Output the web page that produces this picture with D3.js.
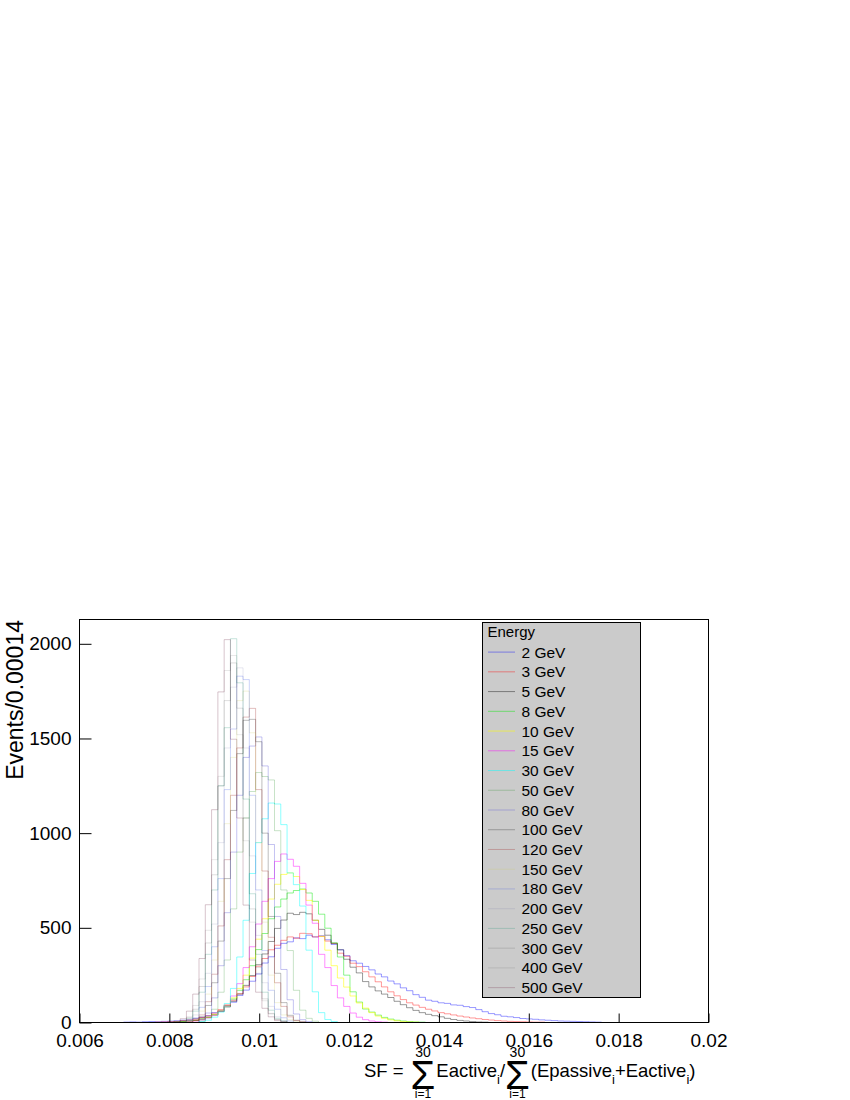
<!DOCTYPE html>
<html>
<head>
<meta charset="utf-8">
<script src="https://cdn.jsdelivr.net/npm/d3@7"></script>
<style>
body { margin: 0; background: #fff; }
text { font-family: "Liberation Sans", Arial, Helvetica, sans-serif; fill: #000; }
</style>
</head>
<body>
<svg id="chart" width="850" height="1100"></svg>
<script>
// histogram binning (100 bins of 0.00014)
var xMin = 0.006, xMax = 0.02, binWidth = 0.00014;

var energies = ["2 GeV", "3 GeV", "5 GeV", "8 GeV", "10 GeV", "15 GeV", "30 GeV", "50 GeV", "80 GeV",
                "100 GeV", "120 GeV", "150 GeV", "180 GeV", "200 GeV", "250 GeV", "300 GeV", "400 GeV", "500 GeV"];
var lineColors = ["rgba(0,0,255,0.4)", "rgba(255,0,0,0.4)", "rgba(0,0,0,0.4)", "rgba(0,230,0,0.45)",
                  "rgba(255,255,0,0.55)", "rgba(255,0,255,0.45)", "rgba(0,255,255,0.45)", "rgba(0,128,0,0.22)",
                  "rgba(89,84,216,0.35)", "rgba(0,0,0,0.26)", "rgba(160,40,40,0.3)", "rgba(200,200,80,0.22)",
                  "rgba(60,90,230,0.26)", "rgba(120,120,170,0.18)", "rgba(40,150,120,0.26)", "rgba(0,0,0,0.13)",
                  "rgba(0,0,0,0.09)", "rgba(110,40,70,0.27)"];

// index of the first non-empty bin of each histogram
var firstBin = [7, 12, 14, 15, 16, 17, 19, 19, 19, 18, 18, 18, 17, 17, 16, 16, 16, 15];

// bin contents
var counts2 = [2,3,2,4,5,4,6,7,9,12,14,21,27,36,52,63,88,107,143,171,218,256,314,347,392,418,426,447,443,461,452,458,437,412,384,353,326,313,296,278,256,241,219,204,183,168,147,133,118,112,104,101,93,91,84,79,68,57,47,41,33,30,26,21,19,17,14,12,10,8,7,6,5,4,3,2];
var counts3 = [2,3,4,6,9,13,18,26,35,49,68,91,118,152,188,243,297,338,384,408,434,452,445,471,469,452,455,430,418,366,350,313,295,268,241,215,188,162,141,121,104,92,80,70,61,52,46,40,34,29,24,20,16,13,10,8,6,5,4,3,2,2];
var counts5 = [2,3,5,8,12,19,28,41,58,82,112,150,196,248,305,362,428,497,541,577,570,582,574,540,492,461,418,384,334,292,262,216,188,167,150,132,112,94,78,64,52,43,36,30,22,16,11,8,5,3,2];
var counts8 = [2,4,7,11,18,27,40,60,88,124,170,226,300,385,470,548,610,652,684,697,705,684,640,572,498,421,346,250,162,108,71,55,39,27,18,12,8,5,3,2];
var counts10 = [3,6,10,17,27,41,62,92,130,180,250,340,440,548,652,730,782,790,771,702,645,540,455,382,300,235,187,140,103,76,52,34,22,14,9,5,3,2];
var counts15 = [4,8,14,24,38,60,92,140,205,290,400,520,640,760,851,890,862,825,735,620,524,360,290,195,130,85,50,28,15,8,4,2];
var counts30 = [5,12,28,55,100,180,346,540,787,950,1076,1159,1154,1045,790,728,615,382,162,52,16,5];
var counts50 = [8,25,70,160,330,600,900,1080,1220,1320,1299,1281,1013,700,380,170,65,22,7];
var counts80 = [15,50,130,300,580,900,1200,1400,1460,1508,1355,940,560,280,120,45,15,5];
var counts100 = [10,30,90,210,430,760,1120,1420,1596,1601,1483,1000,560,260,105,38,12,4];
var counts120 = [12,40,110,255,510,860,1200,1450,1613,1659,1230,800,450,210,85,30,10,3];
var counts150 = [20,60,150,330,640,1050,1400,1700,1750,1530,950,530,250,105,40,14,4];
var counts180 = [8,25,80,190,400,760,1230,1550,1829,1811,1200,700,380,170,70,25,8];
var counts200 = [12,40,110,260,520,950,1450,1771,1873,1450,880,460,210,85,30,10];
var counts250 = [5,20,60,160,360,700,1250,1557,2027,1794,1180,680,360,160,65,22,8];
var counts300 = [8,25,70,190,420,780,1250,1700,1899,1660,1080,600,290,125,48,16,5];
var counts400 = [10,30,90,230,487,860,1300,1859,1938,1520,960,530,260,115,45,15,5];
var counts500 = [5,20,60,150,338,622,1124,1746,2022,1496,1080,620,330,160,75,30,10,3];

var allCounts = [counts2, counts3, counts5, counts8, counts10, counts15, counts30, counts50, counts80,
                 counts100, counts120, counts150, counts180, counts200, counts250, counts300, counts400, counts500];

// axis ticks
var xMajor = [0.006, 0.008, 0.01, 0.012, 0.014, 0.016, 0.018, 0.02];
var xLabels = ["0.006", "0.008", "0.01", "0.012", "0.014", "0.016", "0.018", "0.02"];
var yMajor = [0, 500, 1000, 1500, 2000];

var svg = d3.select("#chart");
var frameL = 79.5, frameR = 708.5, frameT = 619.5, frameB = 1022.5;
var nBins = Math.round((xMax - xMin) / binWidth);

var yMaxCount = d3.max(allCounts, function(c) { return d3.max(c); });

var x = d3.scaleLinear().domain([xMin, xMax]).range([frameL, frameR]);
var y = d3.scaleLinear().domain([0, yMaxCount * 1.05]).range([frameB, frameT]);

// histograms drawn as step outlines
var line = d3.line()
    .x(function(d) { return x(d[0]); })
    .y(function(d) { return y(d[1]); })
    .curve(d3.curveStepAfter);

var hist = svg.append("g").attr("class", "hists");
allCounts.forEach(function(c, s) {
    var v = new Array(nBins).fill(0);
    c.forEach(function(n, i) { v[firstBin[s] + i] = n; });
    var pts = [[xMin, 0]];
    for (var k = 0; k < nBins; k++) pts.push([xMin + k * binWidth, v[k]]);
    pts.push([xMax, 0]);
    hist.append("path")
        .attr("d", line(pts))
        .attr("fill", "none")
        .attr("stroke", lineColors[s])
        .attr("stroke-width", 1);
});

// frame
svg.append("rect")
    .attr("x", frameL).attr("y", frameT)
    .attr("width", frameR - frameL).attr("height", frameB - frameT)
    .attr("fill", "none").attr("stroke", "#000").attr("stroke-width", 1);

// x axis, ticks pointing inside
var gx = svg.append("g").attr("transform", "translate(0," + frameB + ")");
gx.call(d3.axisBottom(x).tickValues(d3.range(xMin, xMax + 1e-6, 0.0005)).tickSize(-5).tickFormat(""));
gx.call(d3.axisBottom(x).tickValues(xMajor).tickSize(-9).tickPadding(11)
    .tickFormat(function(d, i) { return xLabels[i]; }));
gx.selectAll(".domain").remove();
gx.selectAll("text").attr("font-size", 19).attr("font-family", null);
gx.selectAll("line").attr("stroke", "#000");

// y axis
var gy = svg.append("g").attr("transform", "translate(" + frameL + ",0)");
gy.call(d3.axisLeft(y).tickValues(d3.range(0, 2101, 100)).tickSize(-6.5).tickFormat(""));
gy.call(d3.axisLeft(y).tickValues(yMajor).tickSize(-12).tickPadding(8).tickFormat(d3.format("d")));
gy.selectAll(".domain").remove();
gy.selectAll("text").attr("font-size", 19).attr("font-family", null);
gy.selectAll("line").attr("stroke", "#000");

// y title
svg.append("text")
    .attr("transform", "translate(23,620) rotate(-90)")
    .attr("text-anchor", "end")
    .attr("font-size", 23)
    .text("Events/0.00014");

// x title: SF = sum Eactive_i / sum (Epassive_i + Eactive_i)
var tx = 364, base = 1077, fs = 18.5;
var title = svg.append("g");
function word(str, size, dy, gap) {
    var t = title.append("text").attr("x", tx).attr("y", base + dy).attr("font-size", size).text(str);
    tx += t.node().getComputedTextLength() + (gap || 0);
}
function bigSum() {
    var t = title.append("text").attr("x", tx).attr("y", base + 12).attr("font-size", 40).text("\u03A3");
    var w = t.node().getComputedTextLength();
    title.append("text").attr("x", tx + w / 2).attr("y", base - 20.5).attr("font-size", 14)
        .attr("text-anchor", "middle").text("30");
    title.append("text").attr("x", tx + w / 2).attr("y", base + 20.5).attr("font-size", 12)
        .attr("text-anchor", "middle").text("i=1");
    tx += w + 1;
}
word("SF =", fs, 0, 7);
bigSum();
word("Eactive", fs, 0);
word("i", 13, 7);
word("/", fs, 0);
bigSum();
word("(Epassive", fs, 0);
word("i", 13, 7);
word("+Eactive", fs, 0);
word("i", 13, 7);
word(")", fs, 0);

// legend
var lgX = 482.5, lgY = 622.5, lgW = 158, lgH = 375;
var rowH = lgH / (energies.length + 1);
var lg = svg.append("g");
lg.append("rect")
    .attr("x", lgX).attr("y", lgY).attr("width", lgW).attr("height", lgH)
    .attr("fill", "#cbcbcb").attr("stroke", "#000").attr("stroke-width", 1);
lg.append("text")
    .attr("x", lgX + 5).attr("y", lgY + rowH * 0.5 + 5)
    .attr("font-size", 15).text("Energy");
energies.forEach(function(e, i) {
    var cy = lgY + rowH * (i + 1.5);
    lg.append("line")
        .attr("x1", lgX + 5.5).attr("x2", lgX + 32.5)
        .attr("y1", cy).attr("y2", cy)
        .attr("stroke", lineColors[i]).attr("stroke-width", 1);
    lg.append("text")
        .attr("x", lgX + 39).attr("y", cy + 5.5)
        .attr("font-size", 15.5).text(e);
});
</script>
</body>
</html>
